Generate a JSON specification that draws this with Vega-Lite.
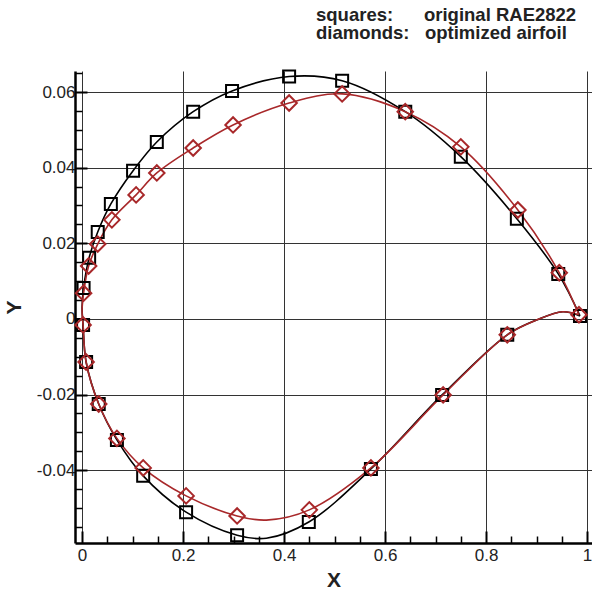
{
  "$schema": "https://vega.github.io/schema/vega-lite/v6.json",
  "width": 517,
  "height": 472,
  "autosize": {"type": "none"},
  "padding": {"left": 75, "top": 71, "right": 0, "bottom": 50},
  "background": "white",
  "config": {"view": {"stroke": null}, "font": "Liberation Sans"},
  "title": {
    "text": ["squares:\u00a0\u00a0\u00a0\u00a0\u00a0\u00a0original RAE2822", "diamonds:\u00a0\u00a0\u00a0optimized airfoil"],
    "anchor": "start",
    "align": "left",
    "frame": "group",
    "dx": 241,
    "offset": 24,
    "fontSize": 18.5,
    "lineHeight": 18,
    "fontWeight": "bold",
    "font": "Liberation Sans",
    "color": "#222222"
  },
  "data": {
    "values": [
      {"airfoil": "original RAE2822", "s": 1, "m": 1, "x": 0.986, "y": 0.0008},
      {"airfoil": "original RAE2822", "s": 2, "m": 1, "x": 0.943, "y": 0.0119},
      {"airfoil": "original RAE2822", "s": 3, "m": 1, "x": 0.861, "y": 0.0265},
      {"airfoil": "original RAE2822", "s": 4, "m": 1, "x": 0.750, "y": 0.0429},
      {"airfoil": "original RAE2822", "s": 5, "m": 1, "x": 0.640, "y": 0.0548},
      {"airfoil": "original RAE2822", "s": 6, "m": 1, "x": 0.515, "y": 0.0630},
      {"airfoil": "original RAE2822", "s": 7, "m": 1, "x": 0.410, "y": 0.0641},
      {"airfoil": "original RAE2822", "s": 8, "m": 1, "x": 0.297, "y": 0.0603},
      {"airfoil": "original RAE2822", "s": 9, "m": 1, "x": 0.220, "y": 0.0548},
      {"airfoil": "original RAE2822", "s": 10, "m": 1, "x": 0.148, "y": 0.0468},
      {"airfoil": "original RAE2822", "s": 11, "m": 1, "x": 0.101, "y": 0.0392},
      {"airfoil": "original RAE2822", "s": 12, "m": 1, "x": 0.057, "y": 0.0304},
      {"airfoil": "original RAE2822", "s": 13, "m": 1, "x": 0.031, "y": 0.0230},
      {"airfoil": "original RAE2822", "s": 14, "m": 1, "x": 0.014, "y": 0.0162},
      {"airfoil": "original RAE2822", "s": 15, "m": 1, "x": 0.003, "y": 0.0082},
      {"airfoil": "original RAE2822", "s": 16, "m": 0, "x": 0.0, "y": 0.0030},
      {"airfoil": "original RAE2822", "s": 17, "m": 1, "x": 0.002, "y": -0.0016},
      {"airfoil": "original RAE2822", "s": 18, "m": 1, "x": 0.008, "y": -0.0114},
      {"airfoil": "original RAE2822", "s": 19, "m": 1, "x": 0.033, "y": -0.0225},
      {"airfoil": "original RAE2822", "s": 20, "m": 1, "x": 0.069, "y": -0.0320},
      {"airfoil": "original RAE2822", "s": 21, "m": 1, "x": 0.121, "y": -0.0415},
      {"airfoil": "original RAE2822", "s": 22, "m": 1, "x": 0.206, "y": -0.0511},
      {"airfoil": "original RAE2822", "s": 23, "m": 1, "x": 0.307, "y": -0.0572},
      {"airfoil": "original RAE2822", "s": 24, "m": 0, "x": 0.365, "y": -0.0580},
      {"airfoil": "original RAE2822", "s": 25, "m": 1, "x": 0.449, "y": -0.0537},
      {"airfoil": "original RAE2822", "s": 26, "m": 1, "x": 0.572, "y": -0.0397},
      {"airfoil": "original RAE2822", "s": 27, "m": 1, "x": 0.713, "y": -0.0201},
      {"airfoil": "original RAE2822", "s": 28, "m": 1, "x": 0.842, "y": -0.0042},
      {"airfoil": "original RAE2822", "s": 29, "m": 0, "x": 0.900, "y": -0.0003},
      {"airfoil": "original RAE2822", "s": 30, "m": 0, "x": 0.952, "y": 0.0019},
      {"airfoil": "original RAE2822", "s": 31, "m": 0, "x": 0.986, "y": 0.0008},
      {"airfoil": "optimized airfoil", "s": 1, "m": 1, "x": 0.984, "y": 0.0011},
      {"airfoil": "optimized airfoil", "s": 2, "m": 1, "x": 0.945, "y": 0.0122},
      {"airfoil": "optimized airfoil", "s": 3, "m": 1, "x": 0.863, "y": 0.0288},
      {"airfoil": "optimized airfoil", "s": 4, "m": 1, "x": 0.750, "y": 0.0455},
      {"airfoil": "optimized airfoil", "s": 5, "m": 1, "x": 0.640, "y": 0.0548},
      {"airfoil": "optimized airfoil", "s": 6, "m": 1, "x": 0.515, "y": 0.0595},
      {"airfoil": "optimized airfoil", "s": 7, "m": 1, "x": 0.410, "y": 0.0571},
      {"airfoil": "optimized airfoil", "s": 8, "m": 1, "x": 0.299, "y": 0.0513},
      {"airfoil": "optimized airfoil", "s": 9, "m": 1, "x": 0.220, "y": 0.0452},
      {"airfoil": "optimized airfoil", "s": 10, "m": 1, "x": 0.148, "y": 0.0386},
      {"airfoil": "optimized airfoil", "s": 11, "m": 1, "x": 0.107, "y": 0.0328},
      {"airfoil": "optimized airfoil", "s": 12, "m": 1, "x": 0.059, "y": 0.0262},
      {"airfoil": "optimized airfoil", "s": 13, "m": 1, "x": 0.031, "y": 0.0198},
      {"airfoil": "optimized airfoil", "s": 14, "m": 1, "x": 0.013, "y": 0.0140},
      {"airfoil": "optimized airfoil", "s": 15, "m": 1, "x": 0.003, "y": 0.0068},
      {"airfoil": "optimized airfoil", "s": 16, "m": 0, "x": 0.0, "y": 0.0020},
      {"airfoil": "optimized airfoil", "s": 17, "m": 1, "x": 0.002, "y": -0.0016},
      {"airfoil": "optimized airfoil", "s": 18, "m": 1, "x": 0.008, "y": -0.0114},
      {"airfoil": "optimized airfoil", "s": 19, "m": 1, "x": 0.033, "y": -0.0225},
      {"airfoil": "optimized airfoil", "s": 20, "m": 1, "x": 0.069, "y": -0.0316},
      {"airfoil": "optimized airfoil", "s": 21, "m": 1, "x": 0.121, "y": -0.0394},
      {"airfoil": "optimized airfoil", "s": 22, "m": 1, "x": 0.206, "y": -0.0468},
      {"airfoil": "optimized airfoil", "s": 23, "m": 1, "x": 0.307, "y": -0.0521},
      {"airfoil": "optimized airfoil", "s": 24, "m": 0, "x": 0.365, "y": -0.0532},
      {"airfoil": "optimized airfoil", "s": 25, "m": 1, "x": 0.450, "y": -0.0505},
      {"airfoil": "optimized airfoil", "s": 26, "m": 1, "x": 0.572, "y": -0.0394},
      {"airfoil": "optimized airfoil", "s": 27, "m": 1, "x": 0.715, "y": -0.0201},
      {"airfoil": "optimized airfoil", "s": 28, "m": 1, "x": 0.842, "y": -0.0042},
      {"airfoil": "optimized airfoil", "s": 29, "m": 0, "x": 0.900, "y": -0.0003},
      {"airfoil": "optimized airfoil", "s": 30, "m": 0, "x": 0.952, "y": 0.0019},
      {"airfoil": "optimized airfoil", "s": 31, "m": 0, "x": 0.984, "y": 0.0011}
    ]
  },
  "resolve": {"axis": {"x": "independent", "y": "independent"}},
  "layer": [
    {
      "mark": {"type": "line", "interpolate": "catmull-rom", "strokeWidth": 1.6},
      "encoding": {
        "x": {
          "field": "x", "type": "quantitative",
          "scale": {"domain": [-0.014, 1.0098], "nice": false, "zero": false},
          "axis": {
            "orient": "bottom",
            "values": [0, 0.2, 0.4, 0.6, 0.8, 1],
            "labelExpr": "replace(format(datum.value, '~g'), '\u2212', '-')",
            "grid": true, "gridColor": "#333333", "gridWidth": 1, "gridOpacity": 1,
            "tickSize": -12, "tickWidth": 2, "tickColor": "#000000",
            "domainWidth": 2.5, "domainColor": "#000000",
            "labelFontSize": 17, "labelColor": "#222222", "labelPadding": 16, "labelFont": "Liberation Sans",
            "labelFlush": false, "labelOverlap": false,
            "title": "X", "titleFontSize": 21, "titleFontWeight": "bold", "titleColor": "#222222", "titlePadding": 6, "titleFont": "Liberation Sans"
          }
        },
        "y": {
          "field": "y", "type": "quantitative",
          "scale": {"domain": [-0.05926, 0.06556], "nice": false, "zero": false},
          "axis": {
            "orient": "left",
            "values": [-0.04, -0.02, 0, 0.02, 0.04, 0.06],
            "labelExpr": "replace(format(datum.value, '.2~f'), '\u2212', '-')",
            "grid": true, "gridColor": "#333333", "gridWidth": 1, "gridOpacity": 1,
            "tickSize": -12, "tickWidth": 2, "tickColor": "#000000",
            "domainWidth": 2.5, "domainColor": "#000000",
            "labelFontSize": 17, "labelColor": "#222222", "labelPadding": 12, "labelFont": "Liberation Sans",
            "labelFlush": false, "labelOverlap": false,
            "title": "Y", "titleFontSize": 21, "titleFontWeight": "bold", "titleColor": "#222222", "titlePadding": 12, "titleFont": "Liberation Sans"
          }
        },
        "color": {
          "field": "airfoil", "type": "nominal",
          "scale": {"domain": ["original RAE2822", "optimized airfoil"], "range": ["#000000", "#a8282a"]},
          "legend": null
        },
        "order": {"field": "s", "type": "quantitative"}
      }
    },
    {
      "transform": [{"filter": "datum.m == 1"}],
      "mark": {"type": "point", "filled": false, "strokeWidth": 2, "opacity": 1},
      "encoding": {
        "x": {
          "field": "x", "type": "quantitative",
          "axis": {
            "orient": "bottom",
            "values": [0.05, 0.1, 0.15, 0.25, 0.3, 0.35, 0.45, 0.5, 0.55, 0.65, 0.7, 0.75, 0.85, 0.9, 0.95],
            "labels": false, "grid": false, "domain": false, "title": null,
            "tickSize": -7, "tickWidth": 1.5, "tickColor": "#000000"
          }
        },
        "y": {
          "field": "y", "type": "quantitative",
          "axis": {
            "orient": "left",
            "values": [-0.055, -0.05, -0.045, -0.035, -0.03, -0.025, -0.015, -0.01, -0.005, 0.005, 0.01, 0.015, 0.025, 0.03, 0.035, 0.045, 0.05, 0.055, 0.065],
            "labels": false, "grid": false, "domain": false, "title": null,
            "tickSize": -7, "tickWidth": 1.5, "tickColor": "#000000"
          }
        },
        "color": {"field": "airfoil", "type": "nominal", "legend": null},
        "shape": {
          "field": "airfoil", "type": "nominal",
          "scale": {"domain": ["original RAE2822", "optimized airfoil"], "range": ["square", "diamond"]},
          "legend": null
        },
        "size": {
          "field": "airfoil", "type": "nominal",
          "scale": {"domain": ["original RAE2822", "optimized airfoil"], "range": [144, 240]},
          "legend": null
        }
      }
    }
  ]
}
